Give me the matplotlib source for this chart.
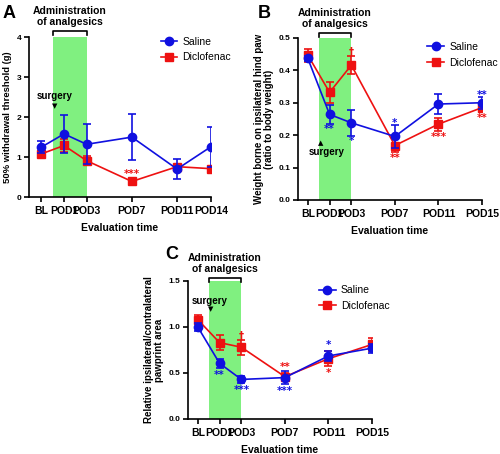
import matplotlib
matplotlib.use("Agg")
import matplotlib.pyplot as plt
from matplotlib.lines import Line2D

plt.rcParams['font.family'] = ['Liberation Sans', 'DejaVu Sans']
plt.rcParams['font.weight'] = 'bold'

BLUE = '#1010e0'
RED = '#ee1111'
GREEN = '#80f080'

# ---- data ----
days_a = [-1, 1, 3, 7, 11, 14]
labels_a = ['BL', 'POD1', 'POD3', 'POD7', 'POD11', 'POD14']
saline_a = [1.25, 1.58, 1.32, 1.50, 0.70, 1.26]
saline_a_err = [0.15, 0.47, 0.50, 0.58, 0.25, 0.50]
diclo_a = [1.08, 1.29, 0.91, 0.39, 0.76, 0.71]
diclo_a_err = [0.05, 0.17, 0.11, 0.04, 0.05, 0.07]

days_b = [-1, 1, 3, 7, 11, 15]
labels_b = ['BL', 'POD1', 'POD3', 'POD7', 'POD11', 'POD15']
saline_b = [0.437, 0.264, 0.238, 0.196, 0.296, 0.300]
saline_b_err = [0.008, 0.030, 0.040, 0.035, 0.030, 0.018]
diclo_b = [0.447, 0.332, 0.416, 0.168, 0.234, 0.285]
diclo_b_err = [0.020, 0.033, 0.027, 0.020, 0.020, 0.015]

days_c = [-1, 1, 3, 7, 11, 15]
labels_c = ['BL', 'POD1', 'POD3', 'POD7', 'POD11', 'POD15']
saline_c = [1.00, 0.605, 0.43, 0.45, 0.685, 0.77]
saline_c_err = [0.04, 0.05, 0.04, 0.07, 0.05, 0.05]
diclo_c = [1.08, 0.83, 0.78, 0.46, 0.655, 0.81]
diclo_c_err = [0.05, 0.08, 0.08, 0.04, 0.08, 0.07]

fig = plt.figure(figsize=(5.0, 4.54), dpi=100)

def setup(ax, days, labels, ylim, yticks, yfmt, ylabel, xlim, ylsize=7):
    ax.axvspan(0, 3, color=GREEN, zorder=0, lw=0)
    ax.set_xlim(*xlim)
    ax.set_ylim(*ylim)
    ax.set_xticks(days)
    ax.set_xticklabels(labels, fontsize=7.5, fontweight='bold')
    ax.set_yticks(yticks)
    ax.set_yticklabels([yfmt.format(v) for v in yticks], fontsize=6, fontweight='bold')
    for s in ['top', 'right']:
        ax.spines[s].set_visible(False)
    for s in ['left', 'bottom']:
        ax.spines[s].set_linewidth(1.2)
    ax.tick_params(width=1.2, length=3.5, pad=2)
    ax.tick_params(axis='x', pad=3)
    ax.set_ylabel(ylabel, fontsize=ylsize, fontweight='bold', labelpad=3, linespacing=1.1)
    ax.set_xlabel('Evaluation time', fontsize=7.5, fontweight='bold', labelpad=5)

def plot_series(ax, days, s, se, d, de, anchor):
    ax.errorbar(days, s, yerr=se, color=BLUE, marker='o', ms=6, lw=1.2,
                capsize=3, capthick=1.2, elinewidth=1.2, zorder=4)
    ax.errorbar(days, d, yerr=de, color=RED, marker='s', ms=6, lw=1.2,
                capsize=3, capthick=1.2, elinewidth=1.2, zorder=3)
    h = [Line2D([], [], color=BLUE, marker='o', ms=6, lw=1.2),
         Line2D([], [], color=RED, marker='s', ms=6, lw=1.2)]
    ax.legend(h, ['Saline', 'Diclofenac'], loc='upper left', frameon=False,
              prop={'size': 7.5, 'weight': 'normal'},
              handlelength=1.6, handletextpad=0.5, borderaxespad=0.0, labelspacing=0.55,
              bbox_to_anchor=anchor)

def bracket(ax, ytop_axes, textgap):
    trans = ax.get_xaxis_transform()
    ax.plot([0, 0, 3, 3], [ytop_axes - 0.025, ytop_axes, ytop_axes, ytop_axes - 0.025],
            transform=trans, color='black', lw=1.2, clip_on=False)
    ax.text(1.5, ytop_axes + textgap, 'Administration\nof analgesics', transform=trans,
            ha='center', va='bottom', fontsize=7.5, fontweight='bold', linespacing=1.15)

def stars(ax, items):
    for x, y, t, c in items:
        ax.text(x, y, t, color=c, ha='center', va='center', fontsize=7.2,
                family=['DejaVu Sans'], fontweight='bold')

# ---- Panel A ----
axA = fig.add_axes([0.058, 0.566, 0.364, 0.352])
setup(axA, days_a, labels_a, (0, 4), [0, 1, 2, 3, 4], '{:.0f}',
      '50% withdrawal threshold (g)', (-2.1, 14), ylsize=6.8)
plot_series(axA, days_a, saline_a, saline_a_err, diclo_a, diclo_a_err, (0.70, 1.03))
bracket(axA, 1.04, 0.025)
axA.text(0.15, 2.54, 'surgery', ha='center', va='center', fontsize=7, fontweight='bold')
axA.text(0.15, 2.27, '▼', ha='center', va='center', fontsize=5,
         family=['DejaVu Sans'])
stars(axA, [(7, 0.58, '***', RED)])
fig.text(0.006, 0.99, 'A', fontsize=13, fontweight='bold', va='top')

# ---- Panel B ----
axB = fig.add_axes([0.596, 0.5595, 0.368, 0.357])
setup(axB, days_b, labels_b, (0, 0.5), [0, 0.1, 0.2, 0.3, 0.4, 0.5], '{:.1f}',
      'Weight borne on ipsilateral hind paw\n(ratio to body weight)', (-1.9, 15))
plot_series(axB, days_b, saline_b, saline_b_err, diclo_b, diclo_b_err, (0.68, 1.0))
bracket(axB, 1.03, 0.025)
axB.text(0.2, 0.176, '▲', ha='center', va='center', fontsize=5, family=['DejaVu Sans'])
axB.text(0.7, 0.147, 'surgery', ha='center', va='center', fontsize=7, fontweight='bold')
stars(axB, [
    (1, 0.218, '**', BLUE), (3, 0.183, '*', BLUE), (3, 0.458, '†', RED),
    (7, 0.238, '*', BLUE), (7, 0.128, '**', RED), (11, 0.194, '***', RED),
    (15, 0.324, '**', BLUE), (15, 0.252, '**', RED),
])
fig.text(0.515, 0.99, 'B', fontsize=13, fontweight='bold', va='top')

# ---- Panel C ----
axC = fig.add_axes([0.376, 0.0771, 0.368, 0.304])
setup(axC, days_c, labels_c, (0, 1.5), [0, 0.5, 1.0, 1.5], '{:.1f}',
      'Relative ipsilateral/contralateral\npawprint area', (-1.9, 15))
plot_series(axC, days_c, saline_c, saline_c_err, diclo_c, diclo_c_err, (0.69, 1.0))
bracket(axC, 1.02, 0.03)
axC.text(0.1, 1.28, 'surgery', ha='center', va='center', fontsize=7, fontweight='bold')
axC.text(0.2, 1.19, '▼', ha='center', va='center', fontsize=5, family=['DejaVu Sans'])
stars(axC, [
    (1, 0.48, '**', BLUE), (3, 0.31, '***', BLUE), (3, 0.90, '†', RED),
    (7, 0.57, '**', RED), (7, 0.30, '***', BLUE), (11, 0.80, '*', BLUE),
    (11, 0.50, '*', RED),
])
fig.text(0.33, 0.458, 'C', fontsize=13, fontweight='bold', va='top')

fig.savefig('out.png', dpi=100)
